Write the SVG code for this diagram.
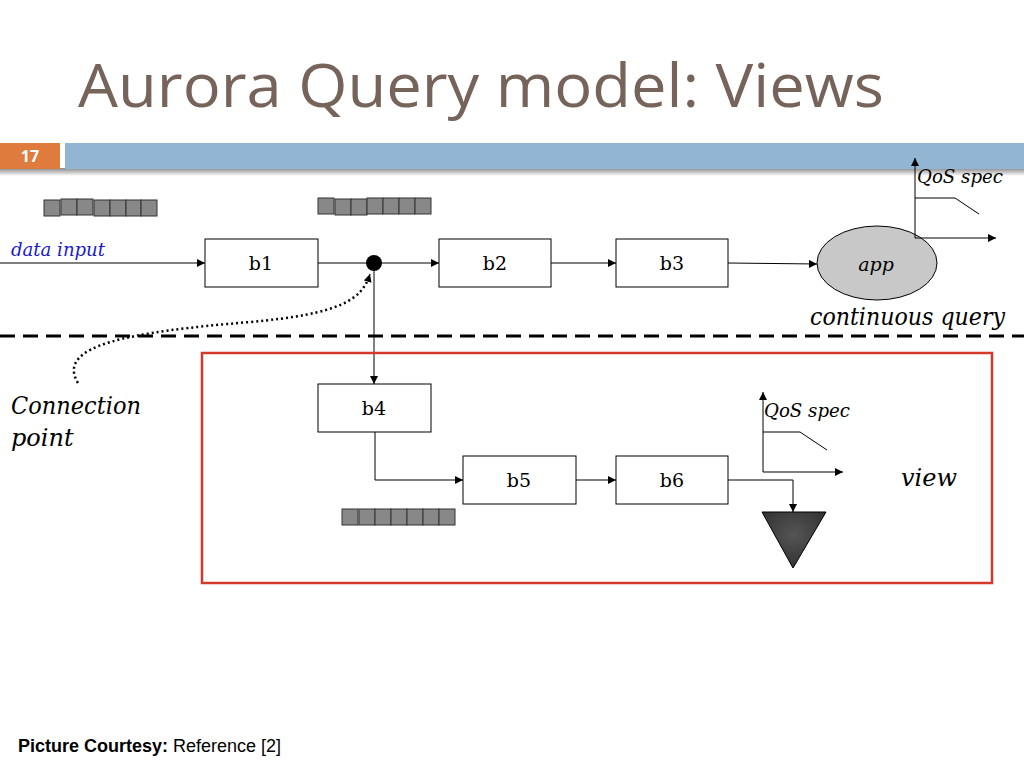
<svg xmlns="http://www.w3.org/2000/svg" width="1024" height="768" viewBox="0 0 1024 768">
<style>
.box{fill:#fff;stroke:#000;stroke-width:1}
.lbl{font-family:"DejaVu Serif",serif;font-size:19px;text-anchor:middle}
.it{font-family:"DejaVu Serif",serif;font-style:italic}
.ln{fill:none;stroke:#000;stroke-width:1}
.sq{fill:#888;stroke:#333;stroke-width:1}
</style>
<defs>
<marker id="ah" viewBox="0 0 10 10" refX="10" refY="5" markerWidth="8" markerHeight="8" markerUnits="userSpaceOnUse" orient="auto"><path d="M0,0L10,5L0,10z" fill="#000"/></marker>
<radialGradient id="tg" cx="0.5" cy="0.4" r="0.6"><stop offset="0" stop-color="#555"/><stop offset="1" stop-color="#333"/></radialGradient>
<linearGradient id="sh" x1="0" y1="0" x2="0" y2="1"><stop offset="0" stop-color="#888"/><stop offset="1" stop-color="#fff"/></linearGradient>
</defs>
<rect width="1024" height="768" fill="#fff"/>
<text x="78" y="107" font-family="Open Sans, sans-serif" font-size="61" fill="#76645b" textLength="806" lengthAdjust="spacingAndGlyphs">Aurora Query model: Views</text>
<rect x="0" y="168" width="1024" height="8" fill="url(#sh)"/>
<rect x="0" y="143" width="60" height="26" fill="#e07b3e"/>
<text x="30" y="162" font-family="Open Sans, sans-serif" font-size="16" font-weight="bold" fill="#fff" text-anchor="middle">17</text>
<rect x="65" y="143" width="959" height="26" fill="#91b5d3"/>
<g id="queues">
<rect class="sq" x="44" y="200" width="16" height="16"/><rect class="sq" x="61" y="199" width="16" height="16"/><rect class="sq" x="77" y="199" width="16" height="16"/><rect class="sq" x="94" y="200" width="16" height="16"/><rect class="sq" x="110" y="200" width="16" height="16"/><rect class="sq" x="126" y="200" width="15" height="16"/><rect class="sq" x="141" y="200" width="16" height="16"/>
<rect class="sq" x="318" y="198" width="16" height="16"/><rect class="sq" x="335" y="199" width="16" height="16"/><rect class="sq" x="351" y="199" width="16" height="16"/><rect class="sq" x="367" y="198" width="16" height="16"/><rect class="sq" x="383" y="198" width="16" height="16"/><rect class="sq" x="399" y="198" width="16" height="16"/><rect class="sq" x="415" y="198" width="16" height="16"/>
<rect class="sq" x="342" y="509" width="16" height="16"/><rect class="sq" x="359" y="509" width="16" height="16"/><rect class="sq" x="375" y="509" width="16" height="16"/><rect class="sq" x="391" y="509" width="16" height="16"/><rect class="sq" x="407" y="509" width="16" height="16"/><rect class="sq" x="423" y="509" width="16" height="16"/><rect class="sq" x="439" y="509" width="16" height="16"/>
</g>
<text x="11" y="256" class="it" font-size="19" fill="#1a1acc" textLength="94" lengthAdjust="spacingAndGlyphs">data input</text>
<g id="connectors">
<line class="ln" x1="0" y1="263" x2="205" y2="263" marker-end="url(#ah)"/>
<line class="ln" x1="318" y1="263" x2="439" y2="263" marker-end="url(#ah)"/>
<line class="ln" x1="551" y1="263" x2="616" y2="263" marker-end="url(#ah)"/>
<line class="ln" x1="728" y1="263" x2="817" y2="264" marker-end="url(#ah)"/>
<line class="ln" x1="374" y1="263" x2="374" y2="384" marker-end="url(#ah)"/>
<path class="ln" d="M375,432V480H463" marker-end="url(#ah)"/>
<line class="ln" x1="576" y1="480" x2="616" y2="480" marker-end="url(#ah)"/>
<path class="ln" d="M728,480H793V512" marker-end="url(#ah)"/>
<path d="M78,383C55,345 130,332 250,322C340,314 362,300 370,274" fill="none" stroke="#000" stroke-width="2.5" stroke-dasharray="2,3" marker-end="url(#ah)"/>
</g>
<circle cx="374" cy="263" r="8" fill="#000"/>
<g id="b1"><rect class="box" x="205" y="239" width="113" height="48"/><text class="lbl" x="261" y="270">b1</text></g>
<g id="b2"><rect class="box" x="439" y="239" width="112" height="48"/><text class="lbl" x="495" y="270">b2</text></g>
<g id="b3"><rect class="box" x="616" y="239" width="112" height="48"/><text class="lbl" x="672" y="270">b3</text></g>
<g id="b4"><rect class="box" x="318" y="384" width="113" height="48"/><text class="lbl" x="374" y="415">b4</text></g>
<g id="b5"><rect class="box" x="463" y="456" width="113" height="48"/><text class="lbl" x="519" y="487">b5</text></g>
<g id="b6"><rect class="box" x="616" y="456" width="112" height="48"/><text class="lbl" x="672" y="487">b6</text></g>
<g id="app"><ellipse cx="877" cy="263" rx="60" ry="37" fill="#c8c8c8" stroke="#000"/><text x="876" y="271" class="it" font-size="19" text-anchor="middle">app</text></g>
<g id="qos1">
<line class="ln" x1="915" y1="238" x2="915" y2="158" marker-end="url(#ah)"/>
<line class="ln" x1="915" y1="238" x2="996" y2="238" marker-end="url(#ah)"/>
<path class="ln" d="M915,198H955L979,214"/>
<text x="917" y="183" class="it" font-size="19" textLength="86" lengthAdjust="spacingAndGlyphs">QoS spec</text>
</g>
<text x="810" y="325" class="it" font-size="24" textLength="195" lengthAdjust="spacingAndGlyphs">continuous query</text>
<line x1="0" y1="336" x2="1024" y2="336" stroke="#000" stroke-width="3" stroke-dasharray="15,8"/>
<rect x="202" y="353" width="790" height="230" fill="none" stroke="#d5382b" stroke-width="2.5"/>
<text class="it" font-size="24"><tspan x="11" y="414" textLength="130" lengthAdjust="spacingAndGlyphs">Connection</tspan><tspan x="11" y="446">point</tspan></text>
<g id="qos2">
<line class="ln" x1="763" y1="472" x2="763" y2="392" marker-end="url(#ah)"/>
<line class="ln" x1="763" y1="472" x2="843" y2="472" marker-end="url(#ah)"/>
<path class="ln" d="M763,432H800L827,450"/>
<text x="764" y="417" class="it" font-size="19" textLength="86" lengthAdjust="spacingAndGlyphs">QoS spec</text>
</g>
<g id="sink"><path d="M762,512H826L793,568Z" fill="url(#tg)" stroke="#000"/></g>
<text x="901" y="486" class="it" font-size="24">view</text>
<text x="18" y="752" font-family="Liberation Sans, sans-serif" font-size="18"><tspan font-weight="bold">Picture Courtesy:</tspan> Reference [2]</text>
</svg>
